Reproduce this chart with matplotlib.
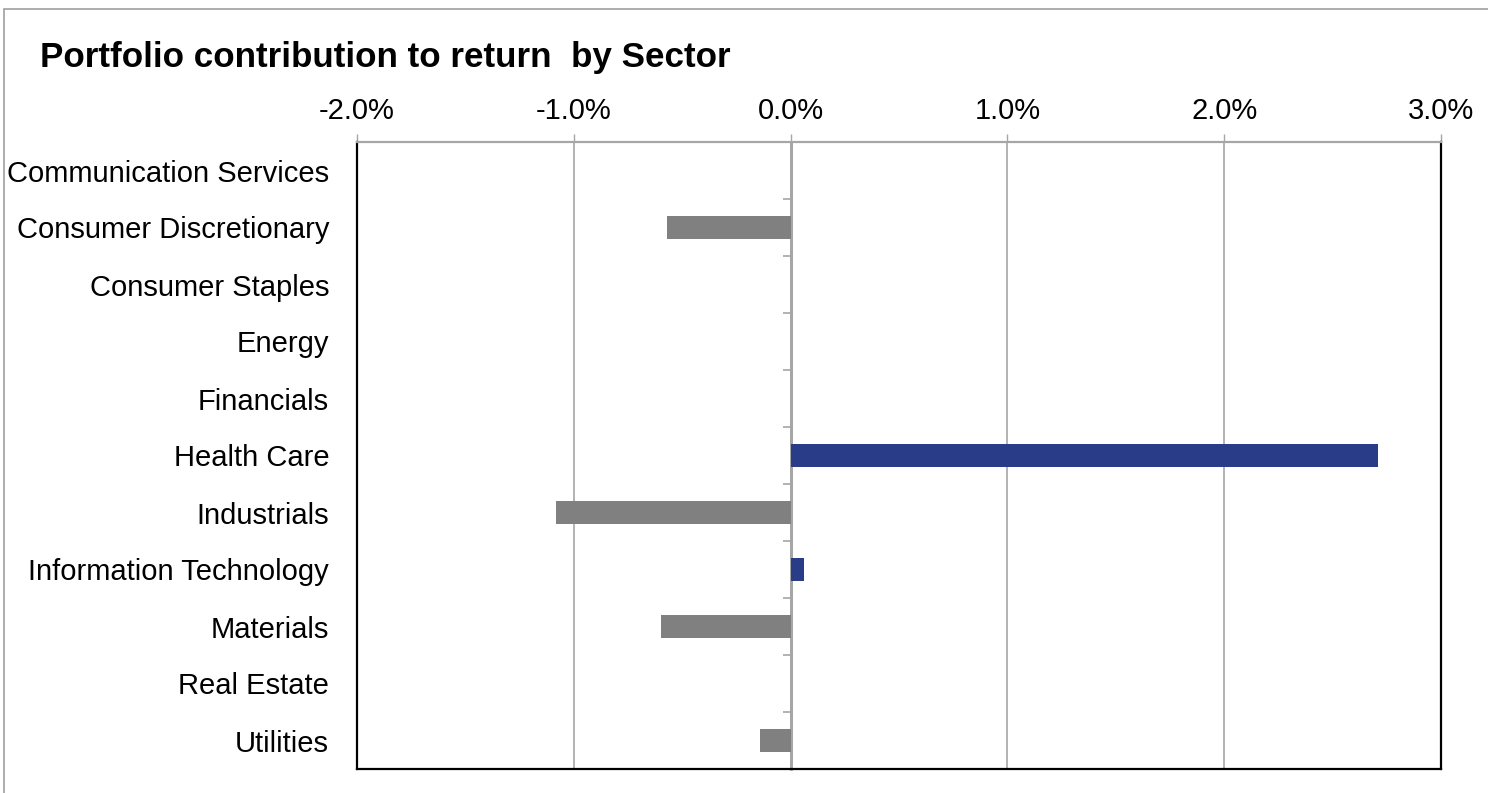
import matplotlib
matplotlib.use("Agg")
import matplotlib.pyplot as plt
from matplotlib.patches import Rectangle
from matplotlib.ticker import FuncFormatter
import numpy as np

plt.rcParams['font.family'] = ['Liberation Sans', 'DejaVu Sans']

sectors = ["Communication Services", "Consumer Discretionary", "Consumer Staples",
           "Energy", "Financials", "Health Care", "Industrials",
           "Information Technology", "Materials", "Real Estate", "Utilities"]
# contribution to return, in percent
contribution = [0.0, -0.57, 0.0, 0.0, 0.0, 2.71, -1.08, 0.06, -0.60, 0.0, -0.14]
x_ticks = [-2.0, -1.0, 0.0, 1.0, 2.0, 3.0]

BLUE = "#283c88"
GREY_BAR = "#808080"
GRID = "#a6a6a6"

fig = plt.figure(figsize=(14.88, 7.93), dpi=100)
ax = fig.add_axes([357 / 1488, 1 - 769 / 793, (1441 - 357) / 1488, (769 - 142) / 793])

y = np.arange(len(sectors))
colors = [BLUE if v > 0 else GREY_BAR for v in contribution]
ax.barh(y, contribution, height=0.41, color=colors, zorder=3)

ax.set_xlim(x_ticks[0], x_ticks[-1])
ax.set_ylim(len(sectors) - 0.5, -0.5)

# value axis on top
ax.xaxis.tick_top()
ax.set_xticks(x_ticks)
ax.xaxis.set_major_formatter(FuncFormatter(lambda v, pos: f"{v:.1f}%"))
ax.tick_params(axis="x", length=6, width=1, color=GRID, pad=6, labelsize=21)
for v in x_ticks[1:-1]:
    ax.axvline(v, color=GRID, lw=1.2 if v != 0 else 2, zorder=1)

# category labels on the left, no tick marks
ax.set_yticks(y)
ax.set_yticklabels(sectors)
ax.tick_params(axis="y", length=0, pad=20, labelsize=21)

for side in ["left", "right", "bottom"]:
    ax.spines[side].set_color("black")
    ax.spines[side].set_linewidth(1.6)
ax.spines["top"].set_color(GRID)
ax.spines["top"].set_linewidth(1.6)

# category-separator ticks along the zero line
zero_pos = (0 - x_ticks[0]) / (x_ticks[-1] - x_ticks[0])
sec = ax.secondary_yaxis(zero_pos)
sec.set_yticks(np.arange(len(sectors) + 1) - 0.5)
sec.set_yticklabels([])
sec.tick_params(axis="y", length=6, width=1.2, color=GRID)
sec.spines["left"].set_color(GRID)
sec.spines["left"].set_linewidth(2)

fig.text(40 / 1488, 1 - 57 / 793, "Portfolio contribution to return  by Sector",
         fontsize=25.2, fontweight="bold", va="center", ha="left")

# outer frame around the chart
fig.patches.append(Rectangle((4 / 1488, -0.1), 1.2, 1.1 - 9 / 793, transform=fig.transFigure,
                             fill=False, edgecolor="#a0a0a0", lw=1.2))

fig.savefig("out.png", dpi=100)
